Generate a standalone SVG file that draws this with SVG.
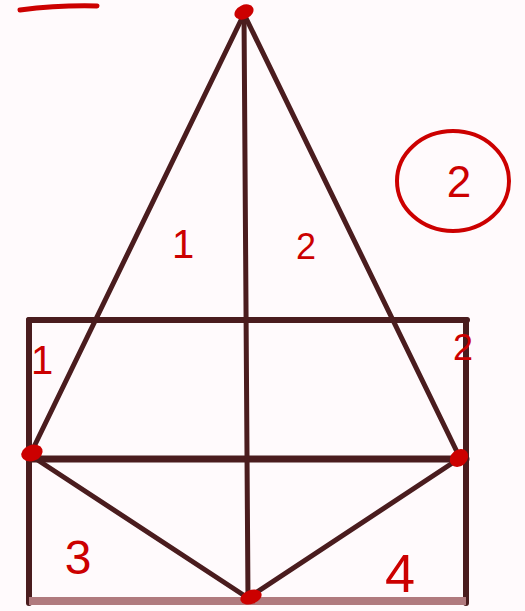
<svg xmlns="http://www.w3.org/2000/svg" width="525" height="611" viewBox="0 0 525 611">
<style>
.ln{stroke:#4a1c1e;stroke-linecap:round;fill:none}
.rd{fill:#cc0000}
.lbl{fill:#cc0000;font-family:"Liberation Sans",sans-serif;text-anchor:middle}
</style>
<rect width="525" height="611" fill="#fffafc"/>
<g id="frame">
<line class="ln" x1="29" y1="320" x2="467" y2="320" stroke-width="6"/>
<line class="ln" x1="29" y1="320" x2="29" y2="603" stroke-width="6"/>
<line class="ln" x1="466" y1="320" x2="466" y2="603" stroke-width="6"/>
<line x1="29" y1="601" x2="466" y2="601" stroke="#b07a7e" stroke-width="8"/>
<line class="ln" x1="29" y1="459" x2="466" y2="459" stroke-width="7" stroke="#561416"/>
</g>
<g id="connectors">
<line class="ln" x1="244" y1="14" x2="248" y2="600" stroke-width="5"/>
<line class="ln" x1="244" y1="14" x2="30" y2="455" stroke-width="5" stroke="#6b3a3c"/>
<line class="ln" x1="244" y1="14" x2="460" y2="458" stroke-width="5" stroke="#6b3a3c"/>
<line class="ln" x1="30" y1="455" x2="248" y2="598" stroke-width="5" stroke="#5a2226"/>
<line class="ln" x1="248" y1="598" x2="460" y2="458" stroke-width="5" stroke="#5a2226"/>
</g>
<g id="dots">
<ellipse class="rd" cx="244" cy="12" rx="10" ry="7" transform="rotate(-25 244 12)"/>
<ellipse class="rd" cx="32" cy="453" rx="11" ry="8" transform="rotate(-20 32 453)"/>
<ellipse class="rd" cx="459" cy="458" rx="10" ry="8" transform="rotate(-40 459 458)"/>
<ellipse class="rd" cx="251" cy="597" rx="11" ry="7" transform="rotate(-20 251 597)"/>
</g>
<g id="marks">
<path d="M20 10 Q60 5 97 6" stroke="#cc0000" stroke-width="5" fill="none" stroke-linecap="round"/>
<ellipse cx="453" cy="181" rx="56" ry="50" stroke="#cc0000" stroke-width="4" fill="none"/>
<text class="lbl" x="459" y="197" font-size="44">2</text>
<text class="lbl" x="183" y="258" font-size="40">1</text>
<text class="lbl" x="306" y="259" font-size="36">2</text>
<text class="lbl" x="42" y="374" font-size="40">1</text>
<text class="lbl" x="463" y="360" font-size="36">2</text>
<text class="lbl" x="78" y="574" font-size="48">3</text>
<text class="lbl" x="400" y="592" font-size="54">4</text>
</g>
</svg>
